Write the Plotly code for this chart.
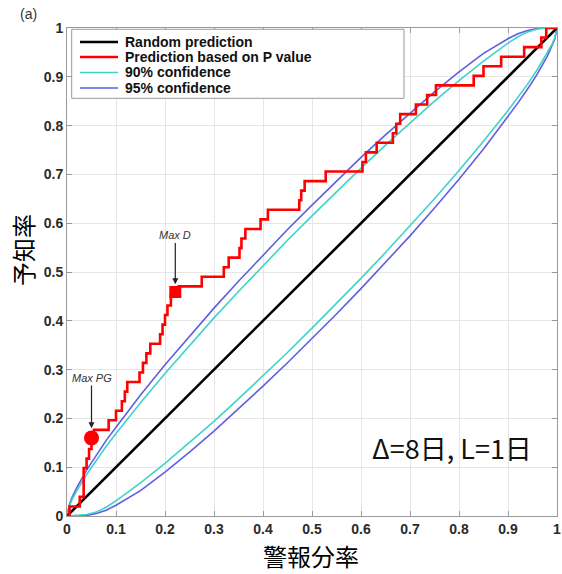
import plotly.graph_objects as go

# ---------------- data ----------------
N_EVENTS = 51

# Step curve: alarm-fraction breakpoints and number of hits reached there
red_x = [0, 0.005, 0.026, 0.034, 0.040, 0.045, 0.050, 0.055, 0.085, 0.100,
         0.112, 0.118, 0.123, 0.148, 0.155, 0.162, 0.170, 0.190, 0.195, 0.200,
         0.205, 0.212, 0.228, 0.275, 0.320, 0.330, 0.352, 0.356, 0.364, 0.395,
         0.410, 0.474, 0.478, 0.485, 0.528, 0.603, 0.610, 0.632, 0.665, 0.672,
         0.680, 0.712, 0.735, 0.753, 0.830, 0.850, 0.886, 0.933, 0.968, 0.978,
         1.0]
red_hits = [0, 1, 2, 5, 6, 7, 8, 9, 10, 11,
            12, 13, 14, 15, 16, 17, 18, 19, 20, 21,
            22, 23, 24, 25, 26, 27, 28, 29, 30, 31,
            32, 33, 34, 35, 36, 37, 38, 39, 40, 41,
            42, 43, 44, 45, 46, 47, 48, 49, 50, 51,
            51]

random_x = [0, 1]
random_y = [0, 1]

# 95% confidence bounds
c95_up_x = [0, 0.005, 0.01, 0.02, 0.04, 0.06, 0.08, 0.10, 0.15, 0.20, 0.25, 0.30,
            0.35, 0.40, 0.45, 0.50, 0.55, 0.60, 0.65, 0.70, 0.75, 0.80, 0.85,
            0.90, 0.92, 0.94, 0.96, 0.98, 1.0]
c95_up_y = [0, 0.024, 0.037, 0.058, 0.094, 0.125, 0.155, 0.182, 0.248, 0.310,
            0.369, 0.426, 0.481, 0.535, 0.587, 0.637, 0.687, 0.735, 0.781, 0.826,
            0.869, 0.910, 0.948, 0.978, 0.988, 0.995, 0.999, 1.0, 1.0]
c95_lo_x = [0, 0.02, 0.04, 0.06, 0.08, 0.10, 0.15, 0.20, 0.25, 0.30, 0.35, 0.40,
            0.45, 0.50, 0.55, 0.60, 0.65, 0.70, 0.75, 0.80, 0.85, 0.90, 0.92,
            0.94, 0.96, 0.98, 0.99, 0.995, 1.0]
c95_lo_y = [0, 0.0, 0.001, 0.005, 0.012, 0.022, 0.052, 0.090, 0.131, 0.174, 0.219,
            0.266, 0.314, 0.363, 0.414, 0.466, 0.519, 0.574, 0.631, 0.690, 0.752,
            0.818, 0.846, 0.875, 0.906, 0.942, 0.963, 0.976, 1.0]

# 90% confidence bounds
c90_up_x = [0, 0.005, 0.01, 0.02, 0.04, 0.06, 0.08, 0.10, 0.15, 0.20, 0.25, 0.30,
            0.35, 0.40, 0.45, 0.50, 0.55, 0.60, 0.65, 0.70, 0.75, 0.80, 0.85,
            0.90, 0.92, 0.94, 0.96, 0.98, 1.0]
c90_up_y = [0, 0.021, 0.033, 0.052, 0.085, 0.115, 0.143, 0.169, 0.232, 0.292,
            0.350, 0.406, 0.460, 0.513, 0.565, 0.615, 0.665, 0.713, 0.760, 0.806,
            0.850, 0.892, 0.932, 0.969, 0.982, 0.992, 0.998, 1.0, 1.0]
c90_lo_x = [0, 0.02, 0.04, 0.06, 0.08, 0.10, 0.15, 0.20, 0.25, 0.30, 0.35, 0.40,
            0.45, 0.50, 0.55, 0.60, 0.65, 0.70, 0.75, 0.80, 0.85, 0.90, 0.92,
            0.94, 0.96, 0.98, 0.99, 0.995, 1.0]
c90_lo_y = [0, 0.001, 0.003, 0.008, 0.018, 0.031, 0.068, 0.108, 0.150, 0.194,
            0.240, 0.287, 0.335, 0.385, 0.435, 0.487, 0.540, 0.594, 0.650, 0.708,
            0.768, 0.831, 0.858, 0.885, 0.915, 0.948, 0.967, 0.979, 1.0]

max_pg = (0.050, 0.160)
max_d = (0.221, 0.459)

tick_vals = [0, 0.1, 0.2, 0.3, 0.4, 0.5, 0.6, 0.7, 0.8, 0.9, 1]
tick_text = ["0", "0.1", "0.2", "0.3", "0.4", "0.5", "0.6", "0.7", "0.8", "0.9", "1"]

legend_names = ["Random prediction", "Prediction based on P value",
                "90% confidence", "95% confidence"]

# ---------------- figure ----------------
red_y = [h / N_EVENTS for h in red_hits]

BLUE = "rgb(95,95,225)"
CYAN = "rgb(64,210,200)"
LEG_FONT = dict(family="Liberation Sans, Arial, sans-serif", size=14,
                color="#111", weight="bold")
TITLE_FONT = dict(family="Noto Sans CJK JP", size=24, color="black")

fig = go.Figure()

fig.add_trace(go.Scatter(
    x=c95_up_x + [None] + c95_lo_x, y=c95_up_y + [None] + c95_lo_y,
    mode="lines", name=legend_names[3], showlegend=False,
    line=dict(color=BLUE, width=1.6), connectgaps=False))
fig.add_trace(go.Scatter(
    x=c90_up_x + [None] + c90_lo_x, y=c90_up_y + [None] + c90_lo_y,
    mode="lines", name=legend_names[2], showlegend=False,
    line=dict(color=CYAN, width=1.6), connectgaps=False))
fig.add_trace(go.Scatter(
    x=random_x, y=random_y, mode="lines", name=legend_names[0], showlegend=False,
    line=dict(color="black", width=2.6)))
fig.add_trace(go.Scatter(
    x=red_x, y=red_y, mode="lines", name=legend_names[1], showlegend=False,
    line=dict(color="#ff0000", width=2.6, shape="hv")))
fig.add_trace(go.Scatter(
    x=[max_pg[0]], y=[max_pg[1]], mode="markers", showlegend=False,
    marker=dict(symbol="circle", size=15, color="#ff0000")))
fig.add_trace(go.Scatter(
    x=[max_d[0]], y=[max_d[1]], mode="markers", showlegend=False,
    marker=dict(symbol="square", size=12, color="#ff0000")))

axis_common = dict(
    range=[0, 1], tickvals=tick_vals, ticktext=tick_text, automargin=False,
    ticklabeloverflow="allow",
    showgrid=True, gridcolor="#e6e6e6", gridwidth=1,
    zeroline=False, showline=True, linecolor="#9a9a9a", linewidth=1,
    mirror="ticks", ticks="inside", ticklen=5, tickcolor="#9a9a9a",
    tickfont=dict(family="Liberation Sans, Arial, sans-serif", size=14,
                  color="#2a2a2a", weight="bold"),
)

fig.update_layout(
    width=562, height=574,
    margin=dict(l=67, r=5, t=28, b=58),
    paper_bgcolor="white", plot_bgcolor="white",
    xaxis=axis_common,
    yaxis=axis_common,
    showlegend=False,
)

# page-pixel -> paper helpers
def px_x(px):
    return (px - 67) / 490.0

def px_y(py):
    return (516 - py) / 488.0

# axis titles
fig.add_annotation(x=px_x(311), y=px_y(555), xref="paper", yref="paper",
                   xanchor="center", yanchor="middle",
                   showarrow=False, text="警報分率", font=TITLE_FONT)
fig.add_annotation(x=px_x(22), y=px_y(250), xref="paper", yref="paper",
                   xanchor="center", yanchor="middle",
                   showarrow=False, text="予知率", textangle=-90, font=TITLE_FONT)

# MATLAB-style legend box
fig.add_shape(type="rect", xref="paper", yref="paper",
              x0=px_x(71.7), x1=px_x(404), y0=px_y(98.3), y1=px_y(29.3),
              line=dict(color="#9a9a9a", width=1), fillcolor="white", layer="above")

leg_colors = ["black", "#ff0000", CYAN, BLUE]
leg_widths = [2.6, 2.6, 1.6, 1.6]
leg_rows = [42, 57, 72.5, 88]
for name, col, w, row in zip(legend_names, leg_colors, leg_widths, leg_rows):
    fig.add_shape(type="line", xref="paper", yref="paper",
                  x0=px_x(80), x1=px_x(118), y0=px_y(row), y1=px_y(row),
                  line=dict(color=col, width=w), layer="above")
    fig.add_annotation(x=px_x(123), y=px_y(row), xref="paper", yref="paper",
                       xanchor="left", yanchor="middle", showarrow=False,
                       text=name, font=LEG_FONT)

fig.add_annotation(x=max_d[0], y=max_d[1] + 0.016, ax=max_d[0], ay=0.575,
                   axref="x", ayref="y", xref="x", yref="y",
                   text="<i>Max D</i>", showarrow=True, arrowhead=2, arrowsize=1,
                   arrowwidth=1.2, arrowcolor="#222",
                   font=dict(family="Liberation Sans, Arial", size=11, color="#333"))
fig.add_annotation(x=max_pg[0], y=max_pg[1] + 0.02, ax=max_pg[0], ay=0.283,
                   axref="x", ayref="y", xref="x", yref="y",
                   text="<i>Max PG</i>", showarrow=True, arrowhead=2, arrowsize=1,
                   arrowwidth=1.2, arrowcolor="#222",
                   font=dict(family="Liberation Sans, Arial", size=11, color="#333"))
fig.add_annotation(x=0.785, y=0.14, xref="x", yref="y", showarrow=False,
                   text="Δ=8日, L=1日",
                   font=dict(family="Noto Sans CJK JP", size=27, color="#111"))
fig.add_annotation(x=px_x(28), y=px_y(14), xref="paper", yref="paper",
                   xanchor="center", yanchor="middle", showarrow=False,
                   text="(a)", font=dict(family="Liberation Sans, Arial", size=14, color="#333"))

fig.write_html(
    "out.html",
    config={"displayModeBar": False},
    post_script="document.body.style.margin='0px';document.body.style.overflow='hidden';",
)
